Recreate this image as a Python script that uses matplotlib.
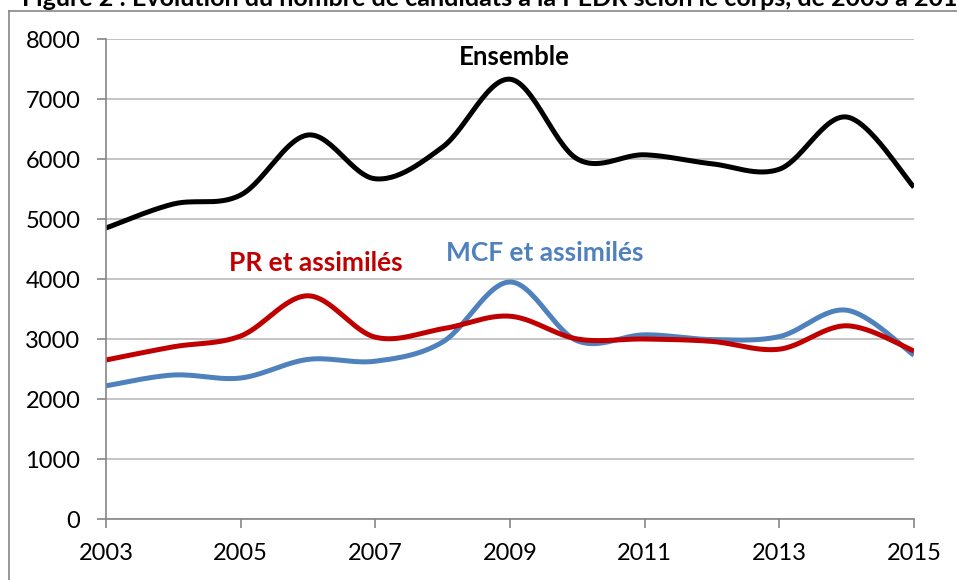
import numpy as np
import matplotlib
matplotlib.use("Agg")
import matplotlib.pyplot as plt
from matplotlib.lines import Line2D

plt.rcParams['font.family'] = ['Lato', 'DejaVu Sans']

years = np.arange(2003, 2016)
ensemble = [4850, 5250, 5400, 6400, 5670, 6200, 7330, 6000, 6070, 5920, 5830, 6700, 5530]
pr = [2650, 2870, 3050, 3720, 3030, 3170, 3380, 3000, 3000, 2960, 2830, 3220, 2800]
mcf = [2220, 2400, 2350, 2660, 2630, 2950, 3950, 2970, 3070, 2990, 3040, 3480, 2730]

title = "Figure 2 : Evolution du nombre de candidats à la PEDR selon le corps, de 2003 à 2015"


def smooth(x, y, n=30):
    # Excel-style smoothed line (Catmull-Rom bezier)
    x = np.asarray(x, float)
    y = np.asarray(y, float)
    px = np.concatenate([[x[0]], x, [x[-1]]])
    py = np.concatenate([[y[0]], y, [y[-1]]])
    xs, ys = [], []
    t = np.linspace(0, 1, n)
    for i in range(1, len(px) - 2):
        p0 = np.array([px[i], py[i]])
        p3 = np.array([px[i + 1], py[i + 1]])
        p1 = p0 + (np.array([px[i + 1], py[i + 1]]) - np.array([px[i - 1], py[i - 1]])) / 6
        p2 = p3 - (np.array([px[i + 2], py[i + 2]]) - np.array([px[i], py[i]])) / 6
        b = ((1 - t) ** 3)[:, None] * p0 + (3 * (1 - t) ** 2 * t)[:, None] * p1 \
            + (3 * (1 - t) * t ** 2)[:, None] * p2 + (t ** 3)[:, None] * p3
        xs.extend(b[:, 0])
        ys.extend(b[:, 1])
    return xs, ys


fig = plt.figure(figsize=(9.57, 5.80), dpi=100)
ax = fig.add_axes([106 / 957, 61 / 580, 808 / 957, 480 / 580])

ax.plot(*smooth(years, ensemble), color='black', lw=3.6, solid_capstyle='butt')
ax.plot(*smooth(years, mcf), color='#4f81bd', lw=3.6, solid_capstyle='butt')
ax.plot(*smooth(years, pr), color='#c00000', lw=3.6, solid_capstyle='butt')

ax.set_xlim(2003, 2015)
ax.set_ylim(0, 8000)
ax.set_xticks(years[::2])
ax.set_yticks(range(0, 8001, 1000))
ax.grid(axis='y', color='#bfbfbf', lw=1.3)
ax.set_axisbelow(True)
for s in ['top', 'right']:
    ax.spines[s].set_visible(False)
for s in ['left', 'bottom']:
    ax.spines[s].set_color('#868686')
    ax.spines[s].set_linewidth(1.2)
ax.tick_params(axis='both', colors='#868686', length=6.5, width=1.2, labelsize=17, labelcolor='black')
ax.tick_params(axis='x', pad=11)
ax.tick_params(axis='y', pad=12)

ax.text(2009.07, 7700, "Ensemble", ha='center', va='center', fontsize=18.5, fontweight='bold', color='black')
ax.text(2006.12, 4267, "PR et assimilés", ha='center', va='center', fontsize=19, fontweight='bold', color='#c00000')
ax.text(2009.52, 4433, "MCF et assimilés", ha='center', va='center', fontsize=19, fontweight='bold', color='#4f81bd')

# outer chart frame
fig.add_artist(Line2D([9 / 957, 9 / 957], [0, 569 / 580], color='#868686', lw=1.2))
fig.add_artist(Line2D([9 / 957, 1], [569 / 580, 569 / 580], color='#868686', lw=1.2))

fig.text(22 / 957, 574 / 580, title, ha='left', va='baseline', fontsize=18, fontweight='bold')

fig.savefig("out.png", dpi=100)
